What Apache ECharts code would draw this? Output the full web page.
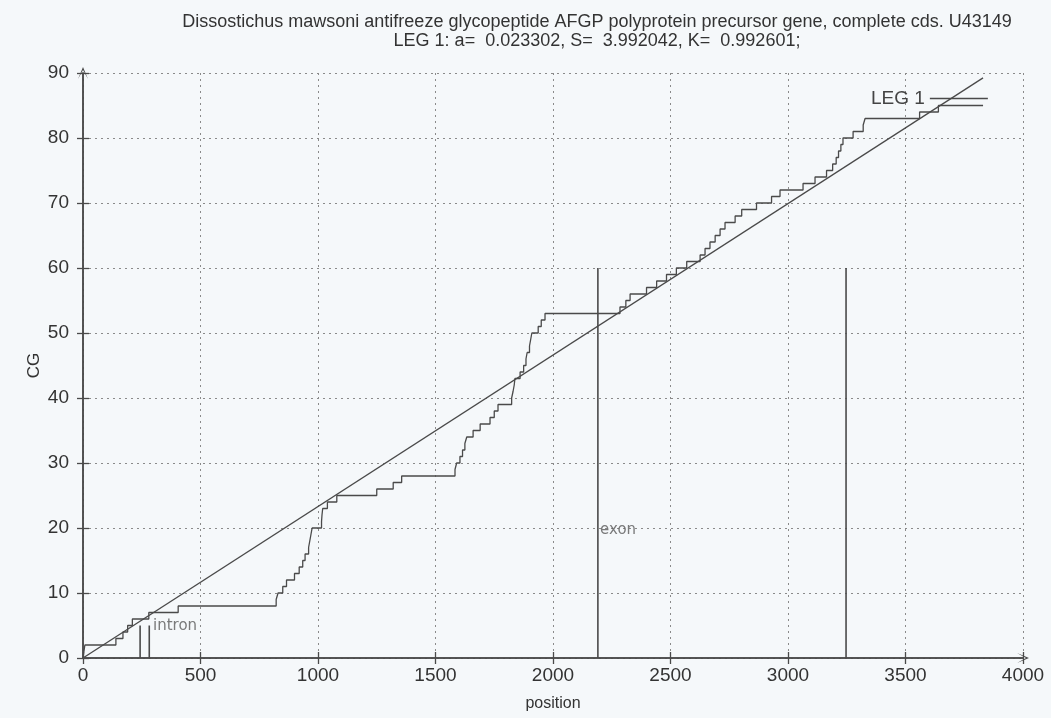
<!DOCTYPE html>
<html>
<head>
<meta charset="utf-8">
<script src="https://cdn.jsdelivr.net/npm/echarts@6/dist/echarts.min.js"></script>
<style>
html,body{margin:0;padding:0;background:#f5f8fa;}
#chart{width:1051px;height:718px;}
</style>
</head>
<body>
<div id="chart"></div>
<script>
// ---- data ----
var titleLines = ['Dissostichus mawsoni antifreeze glycopeptide AFGP polyprotein precursor gene, complete cds. U43149',
                  'LEG 1: a=  0.023302, S=  3.992042, K=  0.992601;'];
var xTicks = [0, 500, 1000, 1500, 2000, 2500, 3000, 3500, 4000];
var yTicks = [0, 10, 20, 30, 40, 50, 60, 70, 80, 90];
// cumulative CG count (step curve): positions and counts
var stepX = [0, 8, 140, 170, 190, 210, 280, 405, 822, 830, 850, 866, 900, 920, 935, 945, 960, 965, 970, 975,
             1015, 1017, 1020, 1040, 1080, 1250, 1320, 1356, 1583, 1590, 1604, 1615, 1625, 1633, 1660, 1690,
             1732, 1750, 1766, 1824, 1830, 1835, 1838, 1860, 1875, 1885, 1890, 1900, 1905, 1910, 1937, 1950,
             1966, 2285, 2310, 2328, 2398, 2441, 2483, 2525, 2569, 2626, 2647, 2668, 2690, 2711, 2732, 2775,
             2803, 2866, 2930, 2966, 3064, 3115, 3164, 3190, 3205, 3215, 3225, 3234, 3277, 3320, 3328, 3560,
             3640, 3830];
var stepY = [0, 2, 3, 4, 5, 6, 7, 8, 9, 10, 11, 12, 13, 14, 15, 16, 17, 18, 19, 20,
             21, 22, 23, 24, 25, 26, 27, 28, 29, 30, 31, 32, 33, 34, 35, 36,
             37, 38, 39, 40, 41, 42, 43, 44, 45, 46, 47, 48, 49, 50, 51, 52,
             53, 54, 55, 56, 57, 58, 59, 60, 61, 62, 63, 64, 65, 66, 67, 68,
             69, 70, 71, 72, 73, 74, 75, 76, 77, 78, 79, 80, 81, 82, 83, 84,
             85, 85];
// regression line end points
var fitX = [0, 3830];
var fitY = [0, 89.25];
// vertical markers
var markerX = [243, 282, 2191, 3247];
var markerH = [5, 5, 60, 60];
// marker labels
var labelText = ['intron', 'exon'];
var labelX = [298, 2200];
var labelY = [4.9, 19.7];

var ink = '#4a4a4a';
var font = 'Liberation Sans, Arial, sans-serif';

var stepData = stepX.map(function (x, i) { return [x, stepY[i]]; });
var fitData = fitX.map(function (x, i) { return [x, fitY[i]]; });

var series = [
  {
    name: 'LEG 1', type: 'line', step: 'end', data: stepData, symbol: 'none',
    lineStyle: { color: ink, width: 1.3 }, itemStyle: { color: ink }, z: 5, animation: false
  },
  {
    name: 'fit', type: 'line', data: fitData, symbol: 'none',
    lineStyle: { color: ink, width: 1.3 }, itemStyle: { color: ink }, z: 4, animation: false
  }
];
markerX.forEach(function (x, i) {
  series.push({
    name: 'marker' + i, type: 'line', data: [[x, 0], [x, markerH[i]]], symbol: 'none',
    lineStyle: { color: ink, width: 1.6 }, z: 3, animation: false
  });
});
series.push({
  name: 'labels', type: 'scatter', symbolSize: 0, animation: false,
  data: labelText.map(function (t, i) { return { value: [labelX[i], labelY[i]], name: t }; }),
  label: {
    show: true, position: 'right', distance: 0, formatter: function (p) { return p.name; },
    fontFamily: 'DejaVu Sans, sans-serif', fontSize: 15, color: '#5a5a5a'
  }
});

var chart = echarts.init(document.getElementById('chart'), null, { renderer: 'canvas' });
chart.setOption({
  backgroundColor: '#f5f8fa',
  animation: false,
  title: {
    text: titleLines.join('\n'),
    left: 592, top: 8, textAlign: 'center',
    textStyle: { fontFamily: font, fontSize: 18, fontWeight: 'normal', color: '#333', lineHeight: 19 }
  },
  legend: {
    data: [{ name: 'LEG 1', icon: 'rect' }], left: 866, top: 84, align: 'right', itemWidth: 58, itemHeight: 1.5,
    textStyle: { fontFamily: font, fontSize: 19, color: '#444' }, selectedMode: false
  },
  grid: { left: 83, right: 28, top: 73, bottom: 60, containLabel: false },
  xAxis: [
    {
      type: 'value', min: 0, max: 4000, interval: 500, name: 'position',
      nameLocation: 'middle', nameGap: 38,
      nameTextStyle: { fontFamily: font, fontSize: 16, color: '#333' },
      axisLine: { show: true, lineStyle: { color: ink, width: 1.5 }, symbol: ['none', 'path://M0,12 L5,0 L10,12 L5,3 Z'], symbolSize: [10, 16] },
      axisTick: { show: true, inside: true, length: 6, lineStyle: { color: ink, width: 1.3 } },
      axisLabel: { fontFamily: font, fontSize: 19, color: '#333', margin: 8, formatter: function (v) { return String(v); } },
      splitLine: { show: true, lineStyle: { color: '#8a8a8a', type: [2, 4], width: 1 } }
    },
    {
      type: 'value', position: 'top', min: 0, max: 4000, interval: 500,
      axisLine: { show: true, lineStyle: { color: ink, width: 1.5 } },
      axisTick: { show: true, inside: true, length: 6, lineStyle: { color: ink, width: 1.3 } },
      axisLabel: { show: false }, splitLine: { show: false }
    }
  ],
  yAxis: [
    {
      type: 'value', min: 0, max: 90, interval: 10, name: 'CG',
      nameLocation: 'middle', nameGap: 40, nameMoveOverlap: false,
      nameTextStyle: { fontFamily: font, fontSize: 17, color: '#333' },
      axisLine: { show: true, lineStyle: { color: ink, width: 1.5 }, symbol: ['none', 'path://M0,12 L5,0 L10,12 L5,3 Z'], symbolSize: [10, 16] },
      axisTick: { show: true, inside: true, length: 6, lineStyle: { color: ink, width: 1.3 } },
      axisLabel: { fontFamily: font, fontSize: 19, color: '#333', margin: 14 },
      splitLine: { show: true, lineStyle: { color: '#8a8a8a', type: [2, 4], width: 1 } }
    },
    {
      type: 'value', position: 'right', min: 0, max: 90, interval: 10,
      axisLine: { show: true, lineStyle: { color: ink, width: 1.5 } },
      axisTick: { show: true, inside: true, length: 6, lineStyle: { color: ink, width: 1.3 } },
      axisLabel: { show: false }, splitLine: { show: false }
    }
  ],
  series: series
});
</script>
</body>
</html>
